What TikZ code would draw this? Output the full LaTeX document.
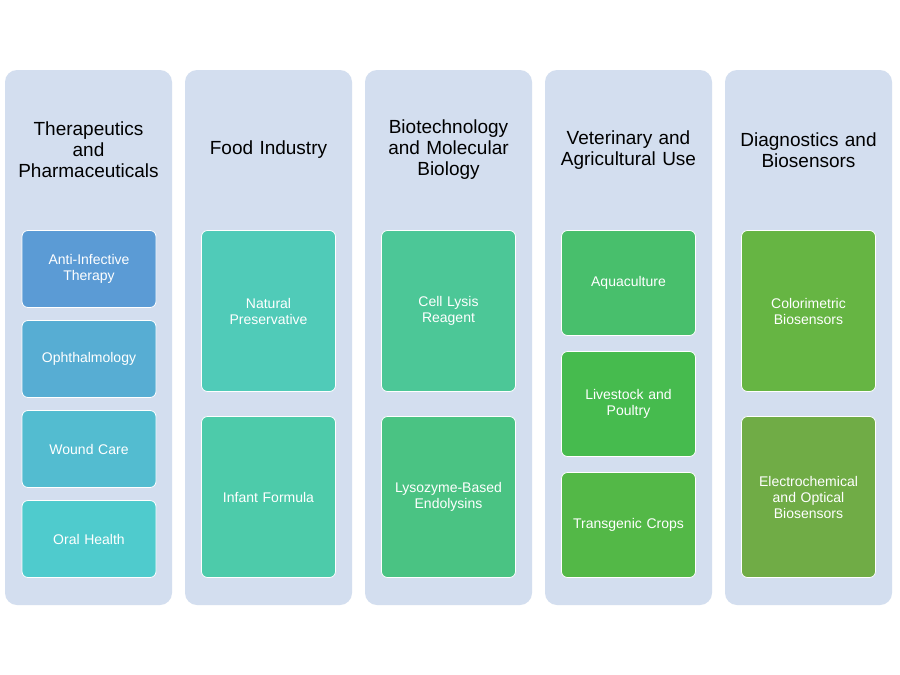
\documentclass[tikz,border=0pt]{standalone}
\usepackage{fontspec}
\setmainfont{Liberation Sans}
\begin{document}
\begin{tikzpicture}[x=1pt,y=-1pt,
  col/.style={fill=colbg,draw=none,rounded corners=12pt,minimum width=167pt,minimum height=535pt,inner sep=0pt},
  ttl/.style={align=center,font=\fontsize{19}{21}\selectfont,text width=160pt},
  box/.style={draw=white,line width=0.8pt,rounded corners=6pt,minimum width=134pt,inner sep=2pt,align=center,text=white,text width=125pt,font=\fontsize{14}{16}\selectfont}]
\definecolor{colbg}{HTML}{D3DEEF}
\fill[white] (0,0) rectangle (900,675);
\foreach \i/\x in {1/88.5,2/268.5,3/448.5,4/628.5,5/808.5}{
  \node[col] (c\i) at (\x,337.5) {};}
\node[ttl] (t1) at (88.5,150) {Therapeutics\\and\\Pharmaceuticals};
\node[ttl] (t2) at (268.5,150) {Food Industry};
\node[ttl] (t3) at (448.5,150) {Biotechnology\\and Molecular\\Biology};
\node[ttl] (t4) at (628.5,150) {Veterinary and\\Agricultural Use};
\node[ttl] (t5) at (808.5,150) {Diagnostics and\\Biosensors};
\node[box,fill={rgb,255:red,91;green,155;blue,213},minimum height=77pt] (b11) at (89,269) {Anti-Infective\\Therapy};
\node[box,fill={rgb,255:red,87;green,173;blue,211},minimum height=77pt] (b12) at (89,359) {Ophthalmology};
\node[box,fill={rgb,255:red,83;green,188;blue,208},minimum height=77pt] (b13) at (89,449) {Wound Care};
\node[box,fill={rgb,255:red,79;green,203;blue,205},minimum height=77pt] (b14) at (89,539) {Oral Health};
\node[box,fill={rgb,255:red,80;green,203;blue,184},minimum height=161pt] (b21) at (268.5,311) {Natural\\Preservative};
\node[box,fill={rgb,255:red,77;green,203;blue,170},minimum height=161pt] (b22) at (268.5,497) {Infant Formula};
\node[box,fill={rgb,255:red,76;green,199;blue,151},minimum height=161pt] (b31) at (448.5,311) {Cell Lysis\\Reagent};
\node[box,fill={rgb,255:red,74;green,195;blue,131},minimum height=161pt] (b32) at (448.5,497) {Lysozyme-Based\\Endolysins};
\node[box,fill={rgb,255:red,72;green,191;blue,108},minimum height=105pt] (b41) at (628.5,283) {Aquaculture};
\node[box,fill={rgb,255:red,70;green,187;blue,78},minimum height=105pt] (b42) at (628.5,404) {Livestock and\\Poultry};
\node[box,fill={rgb,255:red,83;green,184;blue,71},minimum height=105pt] (b43) at (628.5,525) {Transgenic Crops};
\node[box,fill={rgb,255:red,102;green,181;blue,67},minimum height=161pt] (b51) at (808.5,311) {Colorimetric\\Biosensors};
\node[box,fill={rgb,255:red,112;green,172;blue,70},minimum height=161pt] (b52) at (808.5,497) {Electrochemical\\and Optical\\Biosensors};
\end{tikzpicture}
\end{document}
